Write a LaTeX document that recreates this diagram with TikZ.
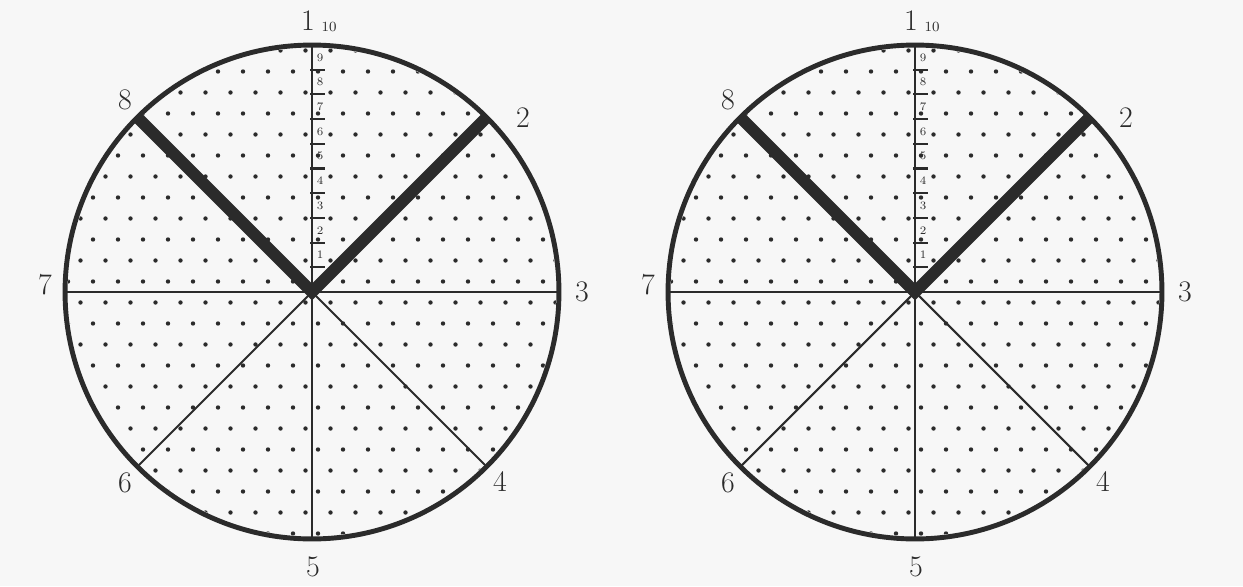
\documentclass[tikz,border=0pt]{standalone}
\usetikzlibrary{positioning, calc}
\definecolor{ink}{HTML}{2B2B2B}
\definecolor{paper}{HTML}{F7F7F7}

\begin{document}
\begin{tikzpicture}[x=0.02cm, y=0.02cm]

\tikzset{
  rim/.style={draw=ink, line width=2.8pt, circle, minimum size=9.88cm, inner sep=0pt, outer sep=0pt},
  spoke/.style={draw=ink, line width=1.2pt},
  arm/.style={draw=ink, line width=6.8pt},
  tick/.style={draw=ink, line width=1.2pt},
  dirlabel/.style={font=\fontsize{17}{20}\selectfont, text=ink, inner sep=1pt},
  scalenum/.style={font=\fontsize{6.5}{7}\selectfont, text=ink, inner sep=0pt},
}

\fill[paper] (0,0) rectangle (1243,586);
\useasboundingbox (0,0) rectangle (1243,586);

\foreach \nm/\cx in {L/312, R/915} {
  \coordinate (c\nm) at (\cx,294);

  % stipple
  \begin{scope}
    \clip (c\nm) circle (244);
    \foreach \r in {-12,...,12} {
      \pgfmathsetmacro\sh{mod(\r+20,2)*12.5+6}
      \foreach \k in {-11,...,10}
        \fill[ink] ($(c\nm)+(\k*25+\sh,\r*21+10.5)$) circle (2.2);
    }
  \end{scope}

  \node[rim] (rim\nm) at (c\nm) {};

  % radii
  \draw[spoke] (c\nm) -- (rim\nm.north);
  \draw[spoke] (c\nm) -- (rim\nm.east);
  \draw[spoke] (c\nm) -- (rim\nm.west);
  \draw[spoke] (c\nm) -- (rim\nm.south);
  \draw[spoke] (c\nm) -- (rim\nm.225);
  \draw[spoke] (c\nm) -- (rim\nm.315);
  \draw[arm] (rim\nm.135) -- (c\nm) -- (rim\nm.45);

  % scale on the upper radius
  \foreach \k in {1,...,9} {
    \draw[tick] ($(c\nm)+(-2,\k*24.7)$) -- ++(15,0);
    \node[scalenum] (s\k\nm) at ($(c\nm)+(8,{(\k+0.5)*24.7})$) {\k};
  }

  \node[dirlabel] (n1\nm) at ($(c\nm)+(-4,271)$) {1};
  \node[scalenum, font=\fontsize{8}{9}\selectfont] (s10\nm) at ($(c\nm)+(17,265)$) {10};
  \node[dirlabel] (n2\nm) at ($(c\nm)+(211,174)$) {2};
  \node[dirlabel] (n3\nm) at ($(c\nm)+(270,0)$) {3};
  \node[dirlabel] (n4\nm) at ($(c\nm)+(188,-190)$) {4};
  \node[dirlabel] (n5\nm) at ($(c\nm)+(1,-275)$) {5};
  \node[dirlabel] (n6\nm) at ($(c\nm)+(-187,-191)$) {6};
  \node[dirlabel] (n7\nm) at ($(c\nm)+(-267,7)$) {7};
  \node[dirlabel] (n8\nm) at ($(c\nm)+(-187,192)$) {8};
}

\end{tikzpicture}
\end{document}
